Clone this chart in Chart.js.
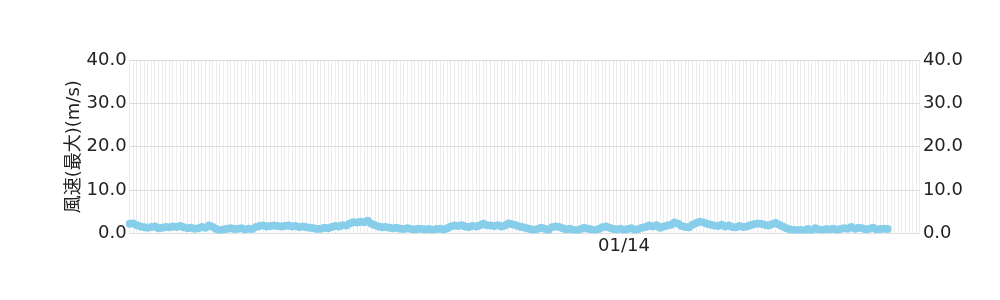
<!DOCTYPE html>
<html>
<head>
<meta charset="utf-8">
<script src="https://cdn.jsdelivr.net/npm/chart.js@4"></script>
<style>
  html, body { margin: 0; padding: 0; background: #fff; }
  #wrap { width: 1000px; height: 300px; }
</style>
</head>
<body>
<div id="wrap"><canvas id="windChart"></canvas></div>
<script>
// 10-minute observations, starting 01/13 01:10
const startTime = new Date(2000, 0, 13, 1, 10);
const slotCount = 220;
const xTickLabels = ['01/14'];
const yTickValues = [0, 10, 20, 30, 40];

// max wind speed (m/s)
const windMax = [
    2.2, 2.3, 1.9,
    1.6, 1.4, 1.3, 1.5, 1.6, 1.2, 1.3, 1.5,
    1.4, 1.6, 1.5, 1.7, 1.4, 1.2, 1.3, 1.1, 1.2, 1.5,
    1.3, 1.8, 1.5, 1.0, 0.7,
    0.9, 1.1, 1.2, 1.0, 1.1, 1.2, 0.9, 1.1, 1.0,
    1.5, 1.7, 1.8, 1.6, 1.7, 1.8, 1.7, 1.6, 1.7, 1.8, 1.6, 1.7, 1.5, 1.6,
    1.4, 1.3, 1.2, 1.0, 1.1, 1.3, 1.2,
    1.5, 1.7, 1.6, 1.9, 1.8,
    2.3, 2.6, 2.5, 2.7, 2.6, 2.9,
    2.2, 1.9, 1.6, 1.4, 1.5, 1.3, 1.2, 1.3, 1.1,
    1.0, 1.2, 1.0, 0.9, 1.1, 1.0, 0.9, 1.0, 0.8, 1.0, 1.1, 0.9, 1.2,
    1.6, 1.8, 1.7, 1.9, 1.6, 1.5, 1.7, 1.6,
    1.8, 2.2, 1.9, 1.8, 1.7, 1.9, 1.6, 1.8,
    2.3, 2.1, 1.9, 1.6, 1.4, 1.2,
    1.0, 0.8, 1.0, 1.3, 1.1, 0.7,
    1.4, 1.6, 1.5, 1.2,
    0.9, 1.1, 0.8, 0.7, 1.0, 1.3, 1.1, 0.9, 0.8, 1.0,
    1.4, 1.6, 1.3, 1.0, 0.9,
    1.1, 0.8, 1.0, 1.2, 0.8, 1.0, 1.3, 1.5,
    1.8, 1.6, 1.9, 1.3, 1.6, 1.8, 2.0,
    2.5, 2.2, 1.7, 1.5, 1.4,
    2.0, 2.4, 2.7, 2.5, 2.2, 2.0, 1.8, 1.7,
    2.0, 1.6, 1.8, 1.5, 1.4, 1.7, 1.5, 1.6, 1.9,
    2.1, 2.3, 2.2, 2.0, 1.8, 2.1, 2.4, 2.0,
    1.6, 1.2, 0.9, 0.8, 0.7, 0.8,
    0.7, 1.0, 0.6, 1.2, 0.9, 0.8, 1.0, 0.9,
    1.1, 0.8, 1.0, 1.2, 1.1, 1.5, 1.1, 1.3,
    1.2, 0.9, 1.1, 1.3, 0.9, 1.0, 1.1, 1.0
];

const pad2 = n => String(n).padStart(2, '0');
const timeLabels = [];
for (let i = 0; i < slotCount; i++) {
    const t = new Date(startTime.getTime() + i * 600000);
    timeLabels.push(pad2(t.getMonth() + 1) + '/' + pad2(t.getDate()) + ' ' + pad2(t.getHours()) + ':' + pad2(t.getMinutes()));
}

const fontFamily = '"DejaVu Sans", "Noto Sans CJK JP", sans-serif';
const tickFont = { family: fontFamily, size: 18 };

const yTicks = {
    font: tickFont,
    color: '#222',
    padding: 3,
    stepSize: 10,
    callback: v => yTickValues.includes(v) ? v.toFixed(1) : ''
};

const ctx = document.getElementById('windChart').getContext('2d');
new Chart(ctx, {
    type: 'line',
    data: {
        labels: timeLabels,
        datasets: [{
            label: '風速(最大)',
            data: windMax,
            borderColor: '#87ceeb',
            backgroundColor: '#87ceeb',
            borderWidth: 5,
            pointRadius: 4,
            pointBorderWidth: 0,
            tension: 0,
            yAxisID: 'y'
        }]
    },
    options: {
        responsive: true,
        maintainAspectRatio: false,
        animation: false,
        layout: { padding: { left: 59, right: 34, top: 60, bottom: 41 } },
        plugins: {
            legend: { display: false },
            tooltip: { enabled: false }
        },
        scales: {
            x: {
                grid: { color: '#ececec', drawTicks: false },
                border: { color: '#e0e0e0' },
                ticks: {
                    font: tickFont,
                    color: '#222',
                    autoSkip: false,
                    maxRotation: 0,
                    padding: 2,
                    callback: function(value) {
                        const lbl = this.getLabelForValue(value);
                        const day = lbl.slice(0, 5);
                        return (lbl.endsWith('00:00') && xTickLabels.includes(day)) ? day : '';
                    }
                }
            },
            y: {
                position: 'left',
                min: 0,
                max: 40,
                grid: { color: '#dcdcdc', drawTicks: false },
                border: { display: false },
                title: {
                    display: true,
                    text: '風速(最大)(m/s)',
                    font: { family: fontFamily, size: 18 },
                    color: '#222',
                    padding: { top: 5, bottom: -2 }
                },
                ticks: yTicks
            },
            y2: {
                position: 'right',
                min: 0,
                max: 40,
                grid: { display: false, drawTicks: false },
                border: { display: false },
                ticks: yTicks
            }
        }
    }
});
</script>
</body>
</html>
